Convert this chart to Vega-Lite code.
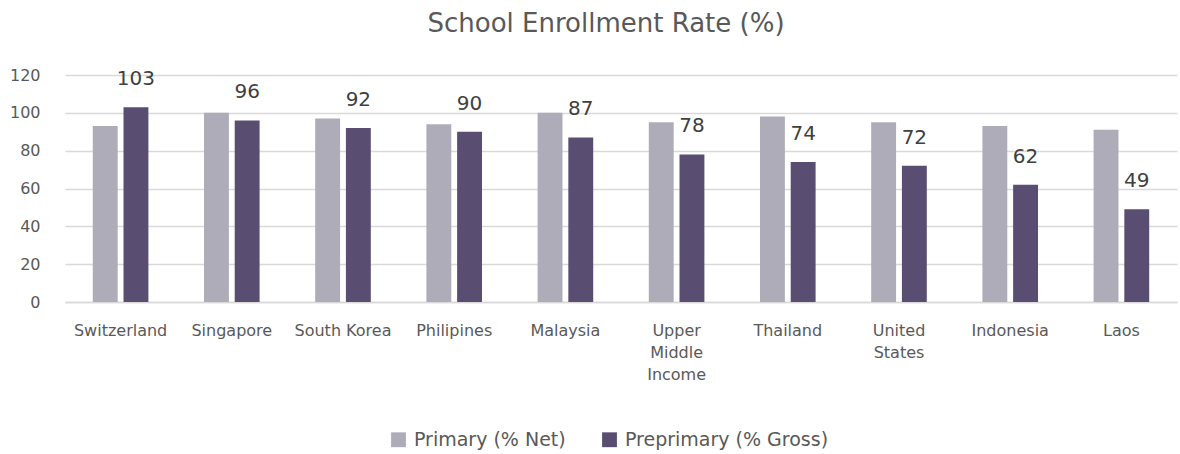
{
  "$schema": "https://vega.github.io/schema/vega-lite/v6.json",
  "autosize": {"type": "none"},
  "width": 1112,
  "height": 227,
  "padding": {"left": 65, "top": 75, "right": 3, "bottom": 152},
  "background": "white",
  "config": {
    "font": "DejaVu Sans",
    "view": {"stroke": null}
  },
  "title": {
    "text": "School Enrollment Rate (%)",
    "fontSize": 26,
    "fontWeight": "normal",
    "color": "#595959",
    "anchor": "middle",
    "frame": "group",
    "dx": -15,
    "offset": 30
  },
  "data": {
    "values": [
      {"country": "Switzerland", "series": "Primary (% Net)", "value": 93},
      {"country": "Switzerland", "series": "Preprimary (% Gross)", "value": 103},
      {"country": "Singapore", "series": "Primary (% Net)", "value": 100},
      {"country": "Singapore", "series": "Preprimary (% Gross)", "value": 96},
      {"country": "South Korea", "series": "Primary (% Net)", "value": 97},
      {"country": "South Korea", "series": "Preprimary (% Gross)", "value": 92},
      {"country": "Philipines", "series": "Primary (% Net)", "value": 94},
      {"country": "Philipines", "series": "Preprimary (% Gross)", "value": 90},
      {"country": "Malaysia", "series": "Primary (% Net)", "value": 100},
      {"country": "Malaysia", "series": "Preprimary (% Gross)", "value": 87},
      {"country": "Upper Middle Income", "series": "Primary (% Net)", "value": 95},
      {"country": "Upper Middle Income", "series": "Preprimary (% Gross)", "value": 78},
      {"country": "Thailand", "series": "Primary (% Net)", "value": 98},
      {"country": "Thailand", "series": "Preprimary (% Gross)", "value": 74},
      {"country": "United States", "series": "Primary (% Net)", "value": 95},
      {"country": "United States", "series": "Preprimary (% Gross)", "value": 72},
      {"country": "Indonesia", "series": "Primary (% Net)", "value": 93},
      {"country": "Indonesia", "series": "Preprimary (% Gross)", "value": 62},
      {"country": "Laos", "series": "Primary (% Net)", "value": 91},
      {"country": "Laos", "series": "Preprimary (% Gross)", "value": 49}
    ]
  },
  "encoding": {
    "x": {
      "field": "country",
      "type": "nominal",
      "sort": null,
      "scale": {"paddingInner": 0.5, "paddingOuter": 0.25},
      "axis": {
        "title": null,
        "labelAngle": 0,
        "labelFontSize": 16,
        "labelColor": "#595959",
        "labelPadding": 20,
        "labelLineHeight": 22,
        "labelBaseline": "top",
        "labelExpr": "datum.label == 'Upper Middle Income' ? ['Upper', 'Middle', 'Income'] : datum.label == 'United States' ? ['United', 'States'] : datum.label",
        "ticks": false,
        "domainColor": "#D9D9D9",
        "domainWidth": 1.5,
        "labelLimit": 200
      }
    },
    "xOffset": {
      "field": "series",
      "type": "nominal",
      "scale": {"domain": ["Primary (% Net)", "Preprimary (% Gross)"], "paddingInner": 0.19, "paddingOuter": 0}
    },
    "y": {
      "field": "value",
      "type": "quantitative",
      "scale": {"domain": [0, 120]},
      "axis": {
        "title": null,
        "values": [0, 20, 40, 60, 80, 100, 120],
        "labelFontSize": 16,
        "labelColor": "#595959",
        "labelPadding": 25,
        "ticks": false,
        "domain": false,
        "gridColor": "#D9D9D9",
        "gridWidth": 1.5
      }
    }
  },
  "layer": [
    {
      "mark": {"type": "bar"},
      "encoding": {
        "color": {
          "field": "series",
          "type": "nominal",
          "scale": {"domain": ["Primary (% Net)", "Preprimary (% Gross)"], "range": ["#ADACB8", "#594E72"]},
          "legend": {
            "title": null,
            "orient": "none",
            "direction": "horizontal",
            "legendX": 324,
            "legendY": 355,
            "symbolType": "square",
            "symbolSize": 220,
            "symbolStrokeWidth": 0,
            "labelFontSize": 19,
            "labelColor": "#595959",
            "labelLimit": 300,
            "columnPadding": 34,
            "symbolOffset": 0,
            "labelOffset": 6
          }
        }
      }
    },
    {
      "transform": [{"filter": "datum.series == 'Preprimary (% Gross)'"}],
      "mark": {"type": "text", "fontSize": 20, "color": "#404040", "baseline": "middle", "dy": -28},
      "encoding": {
        "text": {"field": "value", "type": "quantitative"}
      }
    }
  ]
}
